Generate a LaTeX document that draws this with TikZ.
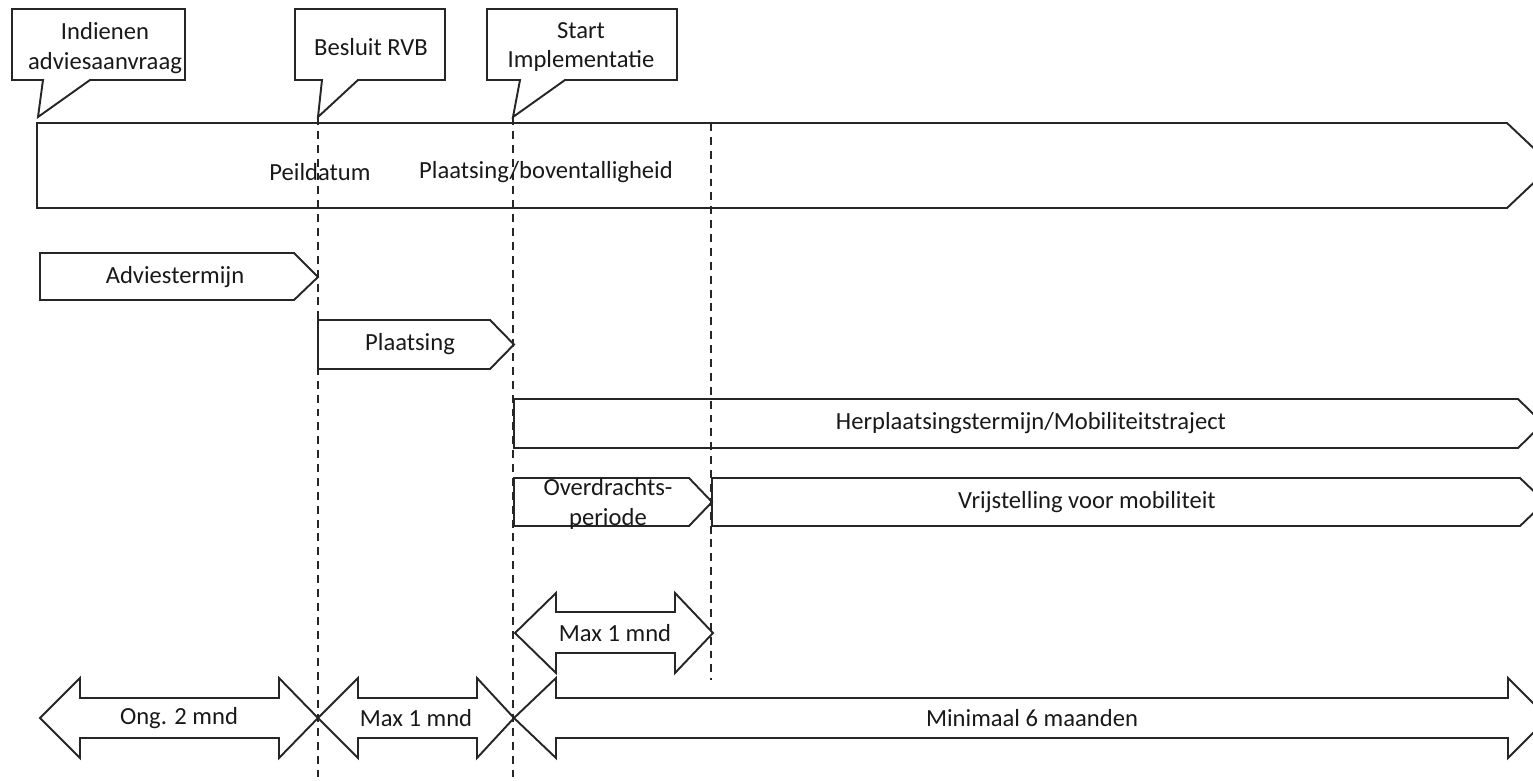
\documentclass[tikz,border=0pt]{standalone}
\usepackage{fontspec}
\setmainfont{Carlito}
\usepackage{tikz}
\usetikzlibrary{calc}

\begin{document}
\begin{tikzpicture}[x=0.2mm, y=-0.2mm, line join=miter,
  outline/.style={draw=black!85, line width=1.1pt},
  milestone/.style={draw=black!85, line width=1.1pt, dash pattern=on 4.5pt off 3.4pt},
  lbl/.style={font=\fontsize{14}{17}\selectfont, text=black!90, inner sep=0pt, align=center}]
\useasboundingbox (0,0) rectangle (1533,780);
\clip (0,0) rectangle (1533,780);

% milestones
\coordinate (peil) at (318,117);
\coordinate (peilEnd) at (318,780);
\coordinate (impl) at (513,117);
\coordinate (implEnd) at (513,780);
\coordinate (vrij) at (711,123);
\coordinate (vrijEnd) at (711,680);
\draw[milestone] (peil) -- (peilEnd);
\draw[milestone] (impl) -- (implEnd);
\draw[milestone] (vrij) -- (vrijEnd);

% callouts
\draw[outline] (12,9) -- (185,9) -- (185,80) -- (90,80) -- (38,117) -- (43,80) -- (12,80) -- cycle;
\draw[outline] (295,9) -- (445,9) -- (445,80) -- (358,80) -- (peil) -- (322,80) -- (295,80) -- cycle;
\draw[outline] (487,9) -- (677,9) -- (677,80) -- (565,80) -- (impl) -- (520,80) -- (487,80) -- cycle;
\node[lbl] (indienen) at (105,48) {Indienen\\adviesaanvraag};
\node[lbl] (besluit) at (371,47) {Besluit RVB};
\node[lbl] (start) at (581,47) {Start\\Implementatie};

% phases
\draw[outline] (37,123) -- (1507,123) -- (1552,165.5) -- (1507,208) -- (37,208) -- cycle;
\node[lbl] (peildatum) at (320,172) {Peildatum};
\node[lbl] (boventallig) at (546,172) {Plaatsing/boventalligheid};

\draw[outline] (40,253) -- (294,253) -- (318,277) -- (294,300) -- (40,300) -- cycle;
\node[lbl] (advies) at (175,277) {Adviestermijn};

\draw[outline] (318,320) -- (490,320) -- (514,344.5) -- (490,369) -- (318,369) -- cycle;
\node[lbl] (plaatsing) at (410,344) {Plaatsing};

\draw[outline] (514,399) -- (1518,399) -- (1543,423.5) -- (1518,448) -- (514,448) -- cycle;
\node[lbl] (herplaatsing) at (1031,423) {Herplaatsingstermijn/Mobiliteitstraject};

\draw[outline] (514,478) -- (689,478) -- (712,502) -- (689,526) -- (514,526) -- cycle;
\node[lbl] (overdracht) at (608,504) {Overdrachts-\\periode};

\draw[outline] (712,478) -- (1520,478) -- (1545,502) -- (1520,526) -- (712,526) -- cycle;
\node[lbl] (vrijstelling) at (1087,502) {Vrijstelling voor mobiliteit};

% durations
\draw[outline] (515,633) -- (556,593) -- (556,612) -- (675,612) -- (675,593) -- (713,633)
  -- (675,673) -- (675,653) -- (556,653) -- (556,673) -- cycle;
\node[lbl] (maxA) at (615,633) {Max 1 mnd};

\draw[outline] (40,718) -- (80,678) -- (80,698) -- (279,698) -- (279,678) -- (318,718)
  -- (279,758) -- (279,738) -- (80,738) -- (80,758) -- cycle;
\node[lbl] (ong) at (179,718) {Ong. 2 mnd};

\draw[outline] (318,718) -- (358,678) -- (358,698) -- (477,698) -- (477,678) -- (514,718)
  -- (477,758) -- (477,738) -- (358,738) -- (358,758) -- cycle;
\node[lbl] (maxB) at (416,718) {Max 1 mnd};

\draw[outline] (514,718) -- (556,678) -- (556,698) -- (1508,698) -- (1508,678) -- (1548,718)
  -- (1508,758) -- (1508,738) -- (556,738) -- (556,758) -- cycle;
\node[lbl] (minimaal) at (1032,718) {Minimaal 6 maanden};
\end{tikzpicture}
\end{document}
